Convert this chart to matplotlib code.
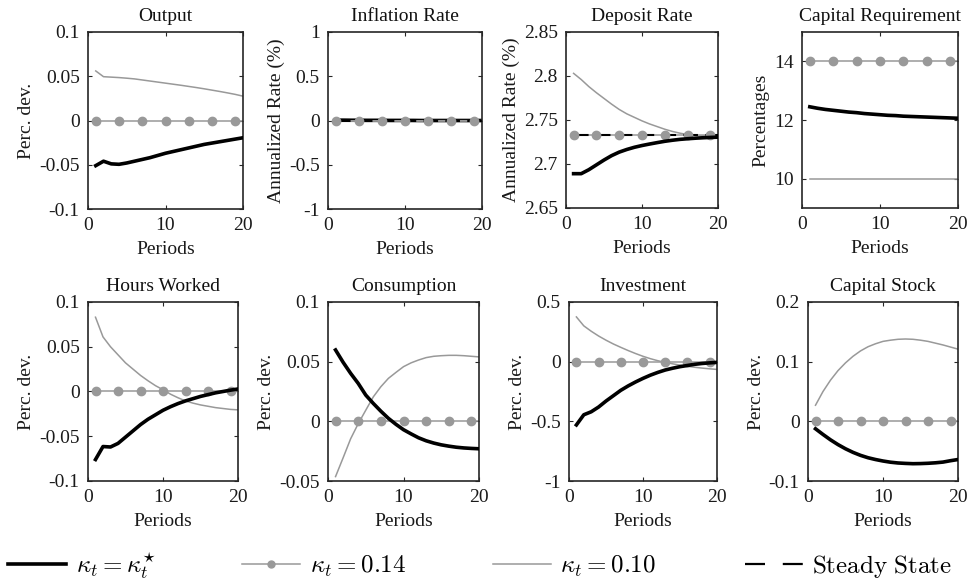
import matplotlib
matplotlib.use("Agg")
from matplotlib import pyplot as plt
from matplotlib.lines import Line2D

plt.rcParams['font.family'] = ['Liberation Serif', 'DejaVu Serif']
plt.rcParams['mathtext.fontset'] = 'cm'
plt.rcParams['axes.unicode_minus'] = False

periods = list(range(1, 21))

# kappa_t = kappa_t* (black)
output_opt = [-0.051, -0.046, -0.049, -0.0495, -0.048, -0.046, -0.044, -0.042, -0.0395, -0.037,
              -0.035, -0.033, -0.031, -0.029, -0.027, -0.0255, -0.024, -0.0225, -0.021, -0.0195]
infl_opt = [0.004, 0.004, 0.003, 0.003, 0.002, 0.002, 0.002, 0.001, 0.001, 0.001,
            0.001, 0.0, 0.0, 0.0, 0.0, 0.0, 0.0, 0.0, 0.0, 0.0]
dep_opt = [2.689, 2.689, 2.6935, 2.699, 2.7045, 2.7095, 2.7135, 2.7165, 2.719, 2.721,
           2.7227, 2.7243, 2.7258, 2.727, 2.728, 2.7287, 2.7293, 2.7298, 2.7302, 2.7305]
capreq_opt = [12.45, 12.40, 12.36, 12.33, 12.30, 12.27, 12.25, 12.22, 12.20, 12.18,
              12.16, 12.15, 12.13, 12.12, 12.11, 12.10, 12.09, 12.08, 12.07, 12.06]
hours_opt = [-0.076, -0.0615, -0.062, -0.058, -0.051, -0.044, -0.037, -0.031, -0.026, -0.021,
             -0.017, -0.0135, -0.0105, -0.008, -0.0055, -0.0035, -0.0015, 0.0, 0.0015, 0.0028]
cons_opt = [0.0598, 0.0495, 0.0402, 0.0318, 0.022, 0.015, 0.0085, 0.0025, -0.0025, -0.007,
            -0.0105, -0.0138, -0.0163, -0.0182, -0.0197, -0.0208, -0.0217, -0.0223, -0.0227, -0.023]
inv_opt = [-0.53, -0.445, -0.42, -0.38, -0.33, -0.285, -0.24, -0.203, -0.17, -0.14,
           -0.113, -0.09, -0.07, -0.055, -0.042, -0.032, -0.022, -0.015, -0.01, -0.006]
kstock_opt = [-0.0125, -0.022, -0.031, -0.039, -0.046, -0.052, -0.057, -0.061, -0.064, -0.0665,
              -0.0685, -0.0698, -0.0705, -0.071, -0.0708, -0.0703, -0.0695, -0.0683, -0.066, -0.064]

# kappa_t = 0.14 (grey with markers)
output_14 = [0.0] * 20
infl_14 = [0.0] * 20
dep_14 = [2.7325] * 20
capreq_14 = [14.0] * 20
hours_14 = [0.0] * 20
cons_14 = [0.0] * 20
inv_14 = [0.0] * 20
kstock_14 = [0.0] * 20

# kappa_t = 0.10 (grey)
output_10 = [0.056, 0.0495, 0.049, 0.0485, 0.0478, 0.047, 0.0458, 0.0446, 0.0434, 0.0422,
             0.041, 0.0398, 0.0385, 0.0372, 0.0358, 0.0343, 0.0328, 0.0312, 0.0295, 0.0275]
infl_10 = [-0.006, -0.006, -0.005, -0.005, -0.005, -0.004, -0.004, -0.004, -0.003, -0.003,
           -0.003, -0.003, -0.002, -0.002, -0.002, -0.002, -0.002, -0.002, -0.002, -0.002]
dep_10 = [2.803, 2.796, 2.788, 2.781, 2.7745, 2.768, 2.762, 2.757, 2.753, 2.749,
          2.7455, 2.7425, 2.7395, 2.737, 2.735, 2.7335, 2.7325, 2.732, 2.7315, 2.731]
capreq_10 = [10.0] * 20
hours_10 = [0.083, 0.061, 0.050, 0.041, 0.032, 0.025, 0.018, 0.012, 0.0065, 0.002,
            -0.003, -0.007, -0.0105, -0.013, -0.015, -0.0165, -0.018, -0.019, -0.020, -0.0205]
cons_10 = [-0.0463, -0.0306, -0.0146, -0.002, 0.0093, 0.0205, 0.029, 0.036, 0.041, 0.0458,
           0.049, 0.0514, 0.0534, 0.0545, 0.055, 0.0553, 0.0553, 0.055, 0.0545, 0.054]
inv_10 = [0.375, 0.30, 0.255, 0.215, 0.18, 0.148, 0.12, 0.093, 0.068, 0.045,
          0.025, 0.008, -0.006, -0.018, -0.029, -0.039, -0.047, -0.054, -0.06, -0.065]
kstock_10 = [0.027, 0.050, 0.069, 0.085, 0.098, 0.109, 0.118, 0.125, 0.130, 0.134,
             0.136, 0.1375, 0.138, 0.1375, 0.136, 0.134, 0.131, 0.128, 0.1245, 0.121]

# steady state (only visible in two panels)
infl_ss = [0.0] * 20
dep_ss = [2.7325] * 20

titles = ['Output', 'Inflation Rate', 'Deposit Rate', 'Capital Requirement',
          'Hours Worked', 'Consumption', 'Investment', 'Capital Stock']
ylabels = ['Perc. dev.', 'Annualized Rate (%)', 'Annualized Rate (%)', 'Percentages',
           'Perc. dev.', 'Perc. dev.', 'Perc. dev.', 'Perc. dev.']
yticks = [[-0.1, -0.05, 0, 0.05, 0.1], [-1, -0.5, 0, 0.5, 1], [2.65, 2.7, 2.75, 2.8, 2.85],
          [10, 12, 14], [-0.1, -0.05, 0, 0.05, 0.1], [-0.05, 0, 0.05, 0.1],
          [-1, -0.5, 0, 0.5], [-0.1, 0, 0.1, 0.2]]
ytick_labels = [['-0.1', '-0.05', '0', '0.05', '0.1'], ['-1', '-0.5', '0', '0.5', '1'],
                ['2.65', '2.7', '2.75', '2.8', '2.85'], ['10', '12', '14'],
                ['-0.1', '-0.05', '0', '0.05', '0.1'], ['-0.05', '0', '0.05', '0.1'],
                ['-1', '-0.5', '0', '0.5'], ['-0.1', '0', '0.1', '0.2']]
ylims = [(-0.1, 0.1), (-1, 1), (2.65, 2.85), (9, 15), (-0.1, 0.1), (-0.05, 0.1), (-1, 0.5), (-0.1, 0.2)]

opt_series = [output_opt, infl_opt, dep_opt, capreq_opt, hours_opt, cons_opt, inv_opt, kstock_opt]
k14_series = [output_14, infl_14, dep_14, capreq_14, hours_14, cons_14, inv_14, kstock_14]
k10_series = [output_10, infl_10, dep_10, capreq_10, hours_10, cons_10, inv_10, kstock_10]
ss_series = [None, infl_ss, dep_ss, None, None, None, None, None]
# black line sits under the others in the inflation panel
opt_z = [5, 1, 5, 5, 5, 5, 5, 5]

W, H = 971, 582
# pixel boxes (left, right, top, bottom)
boxes = [(88, 243, 32, 209), (328, 482, 32, 209), (566, 718, 32, 208), (802, 958, 32, 208),
         (88, 238, 302, 481), (328, 479, 302, 481), (569, 717, 302, 481), (808, 958, 302, 481)]

grey = '#999999'
ss_style = (0, (7, 3.5))

fig = plt.figure(figsize=(W / 100, H / 100), dpi=100)

for i in range(8):
    l, r, t, b = boxes[i]
    ax = fig.add_axes([l / W, 1 - b / H, (r - l) / W, (b - t) / H])
    ax.plot(periods, opt_series[i], color='black', lw=2.6, zorder=opt_z[i])
    ax.plot(periods, k10_series[i], color=grey, lw=1.1, zorder=2)
    ax.plot(periods, k14_series[i], color=grey, lw=1.1, zorder=2)
    if ss_series[i] is not None:
        ax.plot(periods, ss_series[i], color='black', lw=1.5, linestyle=ss_style, zorder=3)
    ax.plot(periods, k14_series[i], color=grey, lw=0, marker='o', markersize=6,
            markevery=3, zorder=4)
    ax.set_xlim(0, 20)
    ax.set_xticks([0, 10, 20])
    ax.set_ylim(*ylims[i])
    ax.set_yticks(yticks[i])
    ax.set_yticklabels(ytick_labels[i])
    ax.tick_params(direction='in', top=True, right=True, labelsize=14, length=3,
                   width=0.8, colors='#262626', labelcolor='#1a1a1a', pad=6)
    for sp in ax.spines.values():
        sp.set_linewidth(1.2)
        sp.set_color('#262626')
    ax.set_title(titles[i], fontsize=14, pad=8, color='#111111')
    ax.set_xlabel('Periods', fontsize=14, color='#1a1a1a', labelpad=5)
    ax.set_ylabel(ylabels[i], fontsize=14, color='#1a1a1a', labelpad=3)

handles = [Line2D([], [], color='black', lw=2.6),
           Line2D([], [], color=grey, lw=1.1, marker='o', markersize=5),
           Line2D([], [], color=grey, lw=1.1),
           Line2D([], [], color='black', lw=1.6, linestyle=(0, (9, 8)))]
labels = [r'$\kappa_t = \kappa_t^{\star}$', r'$\kappa_t = 0.14$', r'$\kappa_t = 0.10$',
          r'$\mathrm{Steady\ State}$']
leg_x = [8, 242, 493, 745]
for h, lab, xp in zip(handles, labels, leg_x):
    fig.legend(handles=[h], labels=[lab], loc='center left', bbox_to_anchor=(xp / W, 1 - 566 / H),
               frameon=False, fontsize=18, handlelength=2.3, handletextpad=0.4,
               borderpad=0, borderaxespad=0)

fig.savefig('out.png', dpi=100)
